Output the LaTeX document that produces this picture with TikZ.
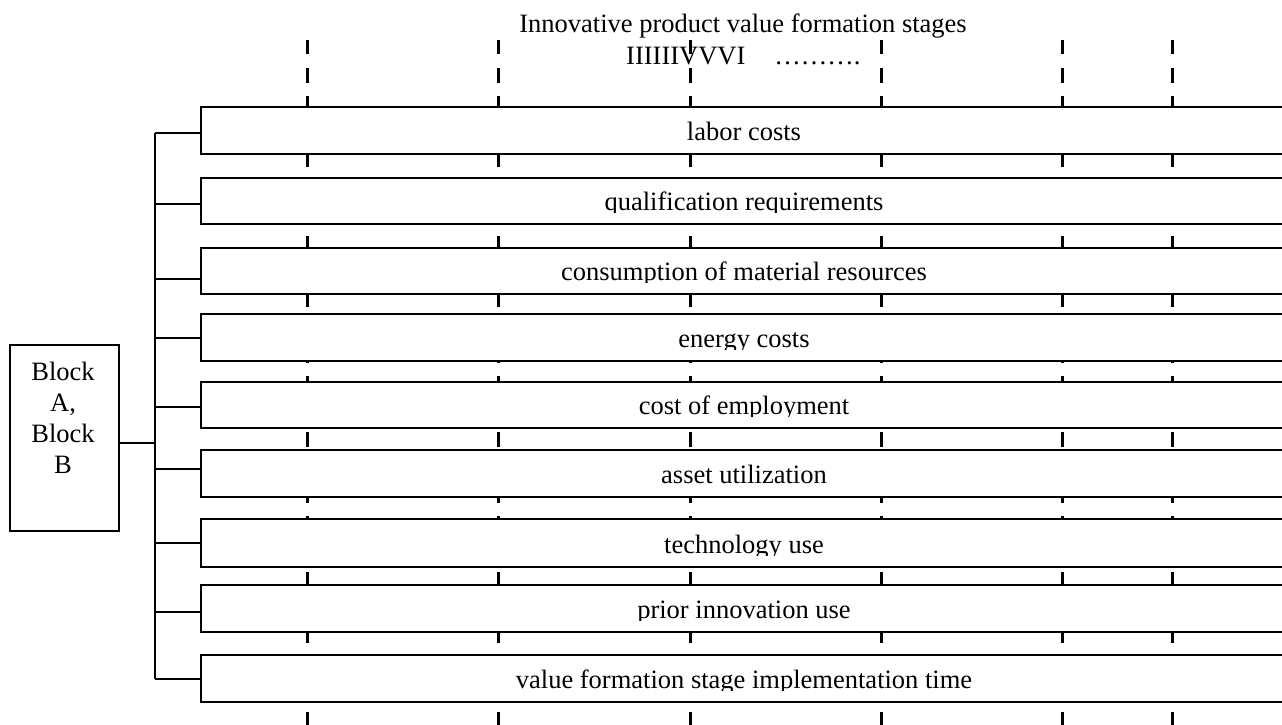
\documentclass[tikz,border=0pt]{standalone}
\usepackage{fontspec}
\setmainfont{Liberation Serif}
\newcommand\rowbox[5]{%
  % #1 name, #2 top, #3 bottom, #4 connector y, #5 text
  \node[bar, minimum height={#3-#2}] (#1) at (200,#2) {};
  \begin{scope}
    \clip (201,#2) rectangle (1282,{#3-11});
    \node[lbl] (#1t) at (744,{#3-13}) {#5};
  \end{scope}
  \coordinate (#1s) at (155,#4);
  \draw[wire] (#1s) -- (#1s -| #1.west);
}
\begin{document}
\begin{tikzpicture}[x=1pt,y=-1pt,
  bar/.style={draw=black, fill=white, line width=2pt, anchor=north west,
    minimum width=1100pt, inner sep=0pt},
  stage/.style={line width=3pt, dash pattern=on 14.5pt off 13.5pt},
  lbl/.style={font=\fontsize{26.5}{31}\selectfont, anchor=base, inner sep=0pt},
  wire/.style={line width=2pt}]
\clip (0,0) rectangle (1282,725);
\fill[white] (0,0) rectangle (1282,725);
% stage dashed lines
\foreach \x in {307,498,690,881,1062,1172}
  \draw[stage] (\x,40) -- (\x,730);
% headings
\node[lbl] (title) at (743,33) {Innovative product value formation stages};
\node[lbl, anchor=base west] (stages) at (626,64) {IIIIIIVVVI\hspace{29pt}……….};
% rows
\rowbox{r1}{106}{153}{133}{labor costs}
\rowbox{r2}{177}{223}{204}{qualification requirements}
\rowbox{r3}{247}{293}{279}{consumption of material resources}
\rowbox{r4}{313}{360}{338}{energy costs}
\rowbox{r5}{381}{427}{407}{cost of employment}
\rowbox{r6}{449}{496}{469}{asset utilization}
\rowbox{r7}{518}{566}{543}{technology use}
\rowbox{r8}{584}{631}{612}{prior innovation use}
\rowbox{r9}{654}{701}{679}{value formation stage implementation time}
% spine
\draw[wire] (r1s) -- (r9s);
% block
\node[draw=black, fill=white, line width=2pt, anchor=north west, inner sep=0pt,
  minimum width=109pt, minimum height=186pt] (blk) at (9,344) {};
\node[lbl, anchor=north, align=center] (blkt) at (63,362) {Block\\A,\\Block\\B};
\coordinate (bj) at (155,443);
\draw[wire] (bj -| blk.east) -- (bj);
\end{tikzpicture}
\end{document}
